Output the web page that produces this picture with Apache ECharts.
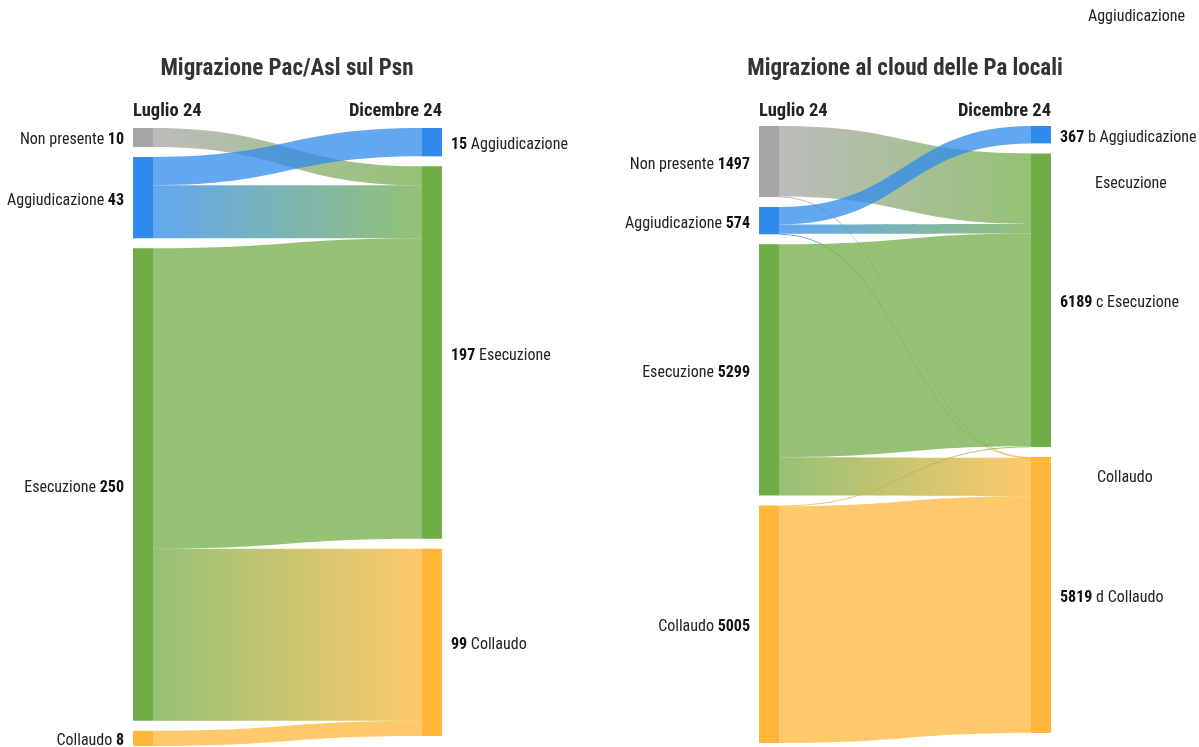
<!DOCTYPE html>
<html><head><meta charset="utf-8">
<script src="https://cdn.jsdelivr.net/npm/echarts@6/dist/echarts.min.js"></script>
<style>html,body{margin:0;padding:0;background:#fff}#c{width:1199px;height:747px}</style>
</head><body><div id="c"></div>
<script>
// ---- Data ----
const stages = ['Non presente', 'Aggiudicazione', 'Esecuzione', 'Collaudo'];
const targetStages = ['Aggiudicazione', 'Esecuzione', 'Collaudo'];

// Left: Migrazione Pac/Asl sul Psn
const leftTitle = 'Migrazione Pac/Asl sul Psn';
const leftSourceValues = [10, 43, 250, 8];
const leftTargetValues = [15, 197, 99];
const leftFrom = ['Non presente', 'Aggiudicazione', 'Aggiudicazione', 'Esecuzione', 'Esecuzione', 'Collaudo'];
const leftTo   = ['Esecuzione', 'Aggiudicazione', 'Esecuzione', 'Esecuzione', 'Collaudo', 'Collaudo'];
const leftFlow = [10, 15, 28, 159, 91, 8];

// Right: Migrazione al cloud delle Pa locali
const rightTitle = 'Migrazione al cloud delle Pa locali';
const rightSourceValues = [1497, 574, 5299, 5005];
const rightTargetValues = [367, 6189, 5819];
const rightTargetPrefix = ['b', 'c', 'd'];
const rightFrom = ['Non presente', 'Non presente', 'Aggiudicazione', 'Aggiudicazione', 'Aggiudicazione', 'Esecuzione', 'Esecuzione', 'Collaudo', 'Collaudo'];
const rightTo   = ['Esecuzione', 'Collaudo', 'Aggiudicazione', 'Esecuzione', 'Collaudo', 'Esecuzione', 'Collaudo', 'Esecuzione', 'Collaudo'];
const rightFlow = [1487, 10, 367, 199, 8, 4489, 810, 14, 4991];

const colLeft = 'Luglio 24';
const colRight = 'Dicembre 24';

// ---- Styling ----
const FONT = "'Roboto Condensed','Liberation Sans Narrow','DejaVu Sans Condensed',Roboto,sans-serif";
const nodeColors = {
  'Non presente': '#a6a6a6',
  'Aggiudicazione': '#2f8aeb',
  'Esecuzione': '#71ad47',
  'Collaudo': '#feb73a'
};

function buildSeries(srcVals, tgtVals, from, to, flow, prefixes, left, width, top, height) {
  const data = [];
  stages.forEach((s, i) => data.push({
    name: 'S|' + s, depth: 0, value: srcVals[i],
    itemStyle: { color: nodeColors[s] },
    label: { position: 'left', formatter: '{n|' + s + '} {v|' + srcVals[i] + '}' }
  }));
  targetStages.forEach((s, i) => data.push({
    name: 'T|' + s, depth: 1, value: tgtVals[i],
    itemStyle: { color: nodeColors[s] },
    label: { position: 'right', formatter: '{v|' + tgtVals[i] + '} {n|' + (prefixes ? prefixes[i] + ' ' : '') + s + '}' }
  }));
  const links = from.map((f, i) => ({ source: 'S|' + f, target: 'T|' + to[i], value: flow[i] }));
  return {
    type: 'sankey',
    left: left, top: top, width: width, height: height,
    nodeWidth: 20, nodeGap: 10, layoutIterations: 0,
    draggable: false,
    emphasis: { disabled: true },
    data: data, links: links,
    itemStyle: { borderWidth: 0 },
    lineStyle: { color: 'gradient', opacity: 0.75, curveness: 0.5 },
    label: {
      distance: 9, offset: [0, 3], color: '#222', fontFamily: FONT, fontSize: 16,
      rich: {
        n: { fontFamily: FONT, fontSize: 16, color: '#222' },
        v: { fontFamily: FONT, fontSize: 16, color: '#111', fontWeight: 'bold' }
      }
    }
  };
}

function txt(text, x, y, opts) {
  return Object.assign({
    text: text, left: x, top: y, padding: 0,
    textStyle: { fontFamily: FONT, fontSize: 18.5, fontWeight: 'bold', color: '#222' }
  }, opts || {});
}
function plain(text, x, y) {
  return { text: text, left: x, top: y, padding: 0,
    textStyle: { fontFamily: FONT, fontSize: 16, fontWeight: 'normal', color: '#222' } };
}

const chart = echarts.init(document.getElementById('c'), null, { renderer: 'canvas' });
chart.setOption({
  backgroundColor: '#fff',
  animation: false,
  title: [
    { text: leftTitle, left: 287, top: 58, padding: 0, textAlign: 'center',
      textStyle: { fontFamily: FONT, fontSize: 23, fontWeight: 'bold', color: '#333' } },
    { text: rightTitle, left: 905, top: 58, padding: 0, textAlign: 'center',
      textStyle: { fontFamily: FONT, fontSize: 23, fontWeight: 'bold', color: '#333' } },
    txt(colLeft, 133, 102),
    txt(colRight, 442, 102, { textAlign: 'right' }),
    txt(colLeft, 759, 102),
    txt(colRight, 1051, 102, { textAlign: 'right' }),
    plain('Aggiudicazione', 1088, 9),
    plain('Esecuzione', 1095, 176),
    plain('Collaudo', 1097, 470)
  ],
  series: [
    buildSeries(leftSourceValues, leftTargetValues, leftFrom, leftTo, leftFlow, null, 133, 309, 128, 618),
    buildSeries(rightSourceValues, rightTargetValues, rightFrom, rightTo, rightFlow, rightTargetPrefix, 759, 292, 126, 617)
  ]
});
</script>
</body></html>
